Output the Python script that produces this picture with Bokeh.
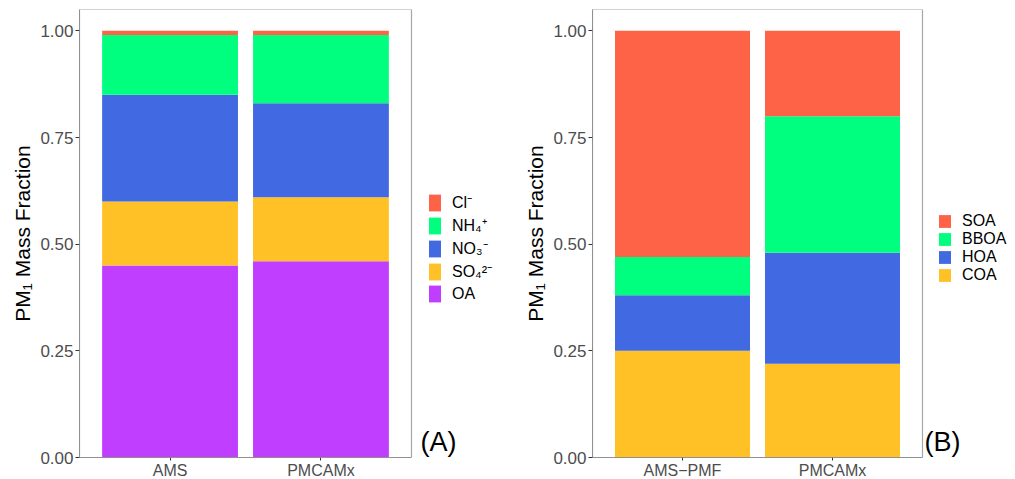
import numpy as np
from bokeh.plotting import figure
from bokeh.models import (Range1d, FixedTicker, NumeralTickFormatter, BoxAnnotation,
                          Legend, LegendItem, Label, ColumnDataSource)
from bokeh.layouts import row
from bokeh.embed import file_html
from bokeh.resources import INLINE

FONT = "Liberation Sans"

# ---- Panel A data (stack order bottom -> top) ----
groups_a = ["AMS", "PMCAMx"]
species_a = ["OA", "SO₄²⁻", "NO₃⁻", "NH₄⁺", "Cl⁻"]
oa = [0.45, 0.46]
so4 = [0.15, 0.15]
no3 = [0.25, 0.22]
nh4 = [0.14, 0.16]
cl = [0.01, 0.01]
colors_a = ["#BF3EFF", "#FFC125", "#4169E1", "#00FF7F", "#FF6347"]

# ---- Panel B data (stack order bottom -> top) ----
groups_b = ["AMS−PMF", "PMCAMx"]
species_b = ["COA", "HOA", "BBOA", "SOA"]
coa = [0.25, 0.22]
hoa = [0.13, 0.26]
bboa = [0.09, 0.32]
soa = [0.53, 0.20]
colors_b = ["#FFC125", "#4169E1", "#00FF7F", "#FF6347"]

y_ticks = [0, 0.25, 0.5, 0.75, 1.0]
y_label = "PM₁ Mass Fraction"

H = 478
FRAME_H = 448
PAD = 0.6          # discrete axis expansion (ggplot style)
BAR_W = 0.9


def make_panel(groups, species, series, colors, letter, plot_w, extra_w, left,
               legend_xy, glyph_h, spacing, letter_gap):
    n = len(groups)
    xs = np.arange(1, n + 1)
    lo, hi = 1 - PAD, n + PAD
    px_per_unit = plot_w / (hi - lo)
    end = hi + extra_w / px_per_unit

    src = {"x": xs}
    keys = []
    for i, vals in enumerate(series):
        k = f"s{i}"
        src[k] = vals
        keys.append(k)

    p = figure(x_range=Range1d(lo, end), y_range=Range1d(0, 1.05), title=None,
               frame_width=plot_w + extra_w, frame_height=FRAME_H,
               min_border_left=left, min_border_right=0,
               min_border_top=9, min_border_bottom=H - 9 - FRAME_H,
               output_backend="svg", toolbar_location=None)
    rs = p.vbar_stack(keys, x="x", width=BAR_W, source=ColumnDataSource(src),
                      fill_color=colors, line_color=None)

    p.xgrid.grid_line_color = None
    p.ygrid.grid_line_color = None
    p.outline_line_color = None
    p.background_fill_color = "white"
    p.border_fill_color = "white"

    # panel border around the plotting area
    p.add_layout(BoxAnnotation(left=lo, right=hi, bottom=0, top=1.05,
                               fill_alpha=0, line_color="#A6A6A6",
                               line_alpha=1.0, line_width=1.2))

    p.yaxis.ticker = FixedTicker(ticks=y_ticks)
    p.yaxis.formatter = NumeralTickFormatter(format="0.00")
    p.yaxis.minor_tick_line_color = None
    p.yaxis.major_tick_in = 0
    p.yaxis.major_tick_out = 4
    p.yaxis.major_label_standoff = 2
    p.yaxis.axis_label = y_label
    p.yaxis.axis_label_text_font = FONT
    p.yaxis.axis_label_text_font_size = "21px"
    p.yaxis.axis_label_text_font_style = "normal"
    p.yaxis.axis_label_text_color = "black"
    p.yaxis.axis_label_standoff = 3

    p.xaxis.ticker = FixedTicker(ticks=list(xs))
    p.xaxis.major_label_overrides = {int(x): g for x, g in zip(xs, groups)}
    p.xaxis.minor_tick_line_color = None
    p.xaxis.bounds = (lo, hi)

    for ax in (p.xaxis, p.yaxis):
        ax.axis_line_color = "#7A7A7A"
        ax.major_tick_line_color = "#333333"
        ax.major_label_text_font = FONT
        ax.major_label_text_color = "#4D4D4D"
    p.yaxis.major_label_text_font_size = "17px"
    p.xaxis.major_label_text_font_size = "16px"
    p.xaxis.major_tick_in = 0
    p.xaxis.major_tick_out = 3
    p.xaxis.major_label_standoff = 1

    items = [LegendItem(label=species[i], renderers=[rs[i]])
             for i in reversed(range(len(species)))]
    legend = Legend(items=items, location=legend_xy,
                    glyph_width=15, glyph_height=glyph_h, label_height=glyph_h,
                    spacing=spacing, padding=0, margin=0, label_standoff=10,
                    border_line_alpha=0, background_fill_alpha=0,
                    label_text_font=FONT, label_text_font_size="16px",
                    label_text_color="black")
    p.add_layout(legend)

    p.add_layout(Label(x=hi + letter_gap / px_per_unit, y=0.0375, text=letter,
                       text_font=FONT, text_font_size="27px",
                       text_baseline="middle", text_color="black"))
    return p


pa = make_panel(groups_a, species_a, [oa, so4, no3, nh4, cl], colors_a, "(A)",
                332, 104, 79, (348, 153), 21, 1, 9)
pb = make_panel(groups_b, species_b, [coa, hoa, bboa, soa], colors_b, "(B)",
                330, 91, 77, (345, 173), 16, 0, 2)

layout = row(pa, pb)
open("out.html", "w").write(file_html(layout, INLINE))
